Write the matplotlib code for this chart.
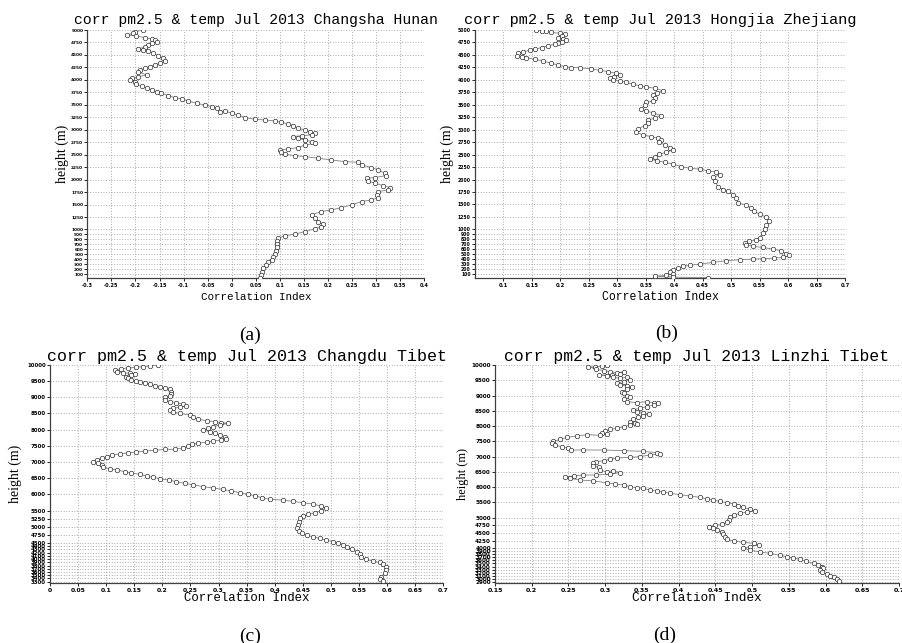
"""
plot.py
-------
Vertical profiles of the PM2.5 / temperature correlation index, July 2013,
for four stations (GrADS-style 2x2 panel figure).
"""

import matplotlib
matplotlib.use("Agg")  # no display
import matplotlib.pyplot as plt
from matplotlib.ticker import FixedLocator, FixedFormatter

# ── Data ──────────────────────────────────────────────────────────────────────

titles = [
    "corr pm2.5 & temp Jul 2013 Changsha Hunan",
    "corr pm2.5 & temp Jul 2013 Hongjia Zhejiang",
    "corr pm2.5 & temp Jul 2013 Changdu Tibet",
    "corr pm2.5 & temp Jul 2013 Linzhi Tibet",
]
panel_labels = ["(a)", "(b)", "(c)", "(d)"]
x_label = "Correlation Index"
y_label = "height (m)"

# (a) Changsha Hunan
corr_a = [-0.184, -0.201, -0.205, -0.218, -0.198, -0.180, -0.166, -0.160, -0.156, -0.166,
          -0.173, -0.180, -0.194, -0.184, -0.173, -0.163, -0.153, -0.142, -0.139, -0.149,
          -0.160, -0.170, -0.180, -0.191, -0.194, -0.177, -0.194, -0.208, -0.211, -0.201,
          -0.198, -0.187, -0.177, -0.166, -0.156, -0.146, -0.132, -0.118, -0.104, -0.090,
          -0.073, -0.056, -0.042, -0.031, -0.025, -0.014, 0.000, 0.013, 0.027, 0.048,
          0.069, 0.090, 0.103, 0.117, 0.128, 0.138, 0.152, 0.162, 0.173, 0.166,
          0.145, 0.128, 0.138, 0.152, 0.166, 0.173, 0.152, 0.138, 0.117, 0.100,
          0.103, 0.110, 0.131, 0.152, 0.180, 0.207, 0.235, 0.263, 0.270, 0.290,
          0.304, 0.318, 0.321, 0.297, 0.280, 0.283, 0.297, 0.315, 0.328, 0.325,
          0.304, 0.301, 0.304, 0.290, 0.270, 0.249, 0.228, 0.207, 0.186, 0.166,
          0.173, 0.180, 0.190, 0.186, 0.173, 0.152, 0.131, 0.110, 0.097, 0.093,
          0.095, 0.093, 0.091, 0.090, 0.086, 0.083, 0.076, 0.072, 0.065, 0.062,
          0.061, 0.058]
height_a = [5000, 4967, 4933, 4900, 4880, 4846, 4820, 4800, 4766, 4733,
            4699, 4666, 4619, 4599, 4579, 4532, 4486, 4432, 4379, 4332,
            4299, 4265, 4232, 4198, 4165, 4098, 4065, 4031, 3998, 3965,
            3911, 3878, 3844, 3798, 3764, 3731, 3684, 3644, 3617, 3577,
            3530, 3497, 3464, 3430, 3363, 3377, 3330, 3297, 3243, 3210,
            3196, 3176, 3150, 3110, 3083, 3029, 2996, 2963, 2929, 2896,
            2882, 2862, 2829, 2796, 2762, 2729, 2695, 2642, 2615, 2595,
            2548, 2508, 2482, 2462, 2428, 2395, 2361, 2348, 2295, 2241,
            2194, 2128, 2081, 2041, 2027, 1974, 1927, 1880, 1840, 1794,
            1760, 1693, 1640, 1593, 1560, 1493, 1440, 1393, 1359, 1293,
            1226, 1159, 1106, 1059, 1012, 959, 906, 872, 825, 772,
            705, 639, 572, 504, 458, 391, 344, 291, 224, 157,
            90, 37]

# (b) Hongjia Zhejiang
corr_b = [0.158, 0.167, 0.175, 0.184, 0.199, 0.208, 0.202, 0.196, 0.205, 0.209,
          0.202, 0.196, 0.190, 0.178, 0.167, 0.155, 0.146, 0.135, 0.126, 0.123,
          0.132, 0.140, 0.155, 0.170, 0.184, 0.196, 0.208, 0.219, 0.234, 0.254,
          0.269, 0.284, 0.298, 0.304, 0.295, 0.287, 0.292, 0.304, 0.316, 0.328,
          0.339, 0.351, 0.366, 0.380, 0.369, 0.363, 0.366, 0.363, 0.351, 0.348,
          0.342, 0.351, 0.363, 0.377, 0.366, 0.354, 0.354, 0.348, 0.336, 0.333,
          0.345, 0.360, 0.371, 0.377, 0.374, 0.383, 0.392, 0.398, 0.386, 0.374,
          0.366, 0.357, 0.369, 0.383, 0.398, 0.412, 0.427, 0.445, 0.459, 0.474,
          0.480, 0.468, 0.471, 0.477, 0.486, 0.494, 0.503, 0.509, 0.512, 0.526,
          0.535, 0.541, 0.550, 0.562, 0.567, 0.562, 0.559, 0.556, 0.550, 0.544,
          0.532, 0.524, 0.526, 0.538, 0.556, 0.573, 0.588, 0.597, 0.601, 0.591,
          0.576, 0.556, 0.538, 0.515, 0.491, 0.468, 0.445, 0.427, 0.415, 0.407,
          0.398, 0.392, 0.398, 0.386, 0.367, 0.398, 0.459]
height_b = [5000, 4987, 4980, 4953, 4933, 4913, 4880, 4846, 4820, 4800,
            4766, 4733, 4713, 4686, 4646, 4619, 4593, 4566, 4532, 4486,
            4459, 4446, 4412, 4379, 4332, 4299, 4265, 4245, 4245, 4218,
            4192, 4165, 4132, 4098, 4065, 4031, 3998, 3978, 3951, 3911,
            3884, 3858, 3831, 3784, 3731, 3697, 3644, 3577, 3550, 3497,
            3417, 3377, 3337, 3283, 3230, 3196, 3130, 3083, 3016, 2949,
            2896, 2862, 2829, 2796, 2749, 2695, 2642, 2595, 2548, 2508,
            2462, 2415, 2375, 2348, 2308, 2261, 2228, 2208, 2174, 2148,
            2094, 2041, 1961, 1860, 1794, 1760, 1693, 1627, 1526, 1493,
            1426, 1359, 1306, 1239, 1159, 1092, 1012, 926, 825, 792,
            758, 725, 691, 658, 638, 604, 571, 504, 478, 438,
            424, 411, 404, 391, 371, 337, 304, 277, 257, 224,
            190, 143, 103, 77, 57, 43, 30]

# (c) Changdu Tibet
corr_c = [0.193, 0.178, 0.166, 0.154, 0.139, 0.127, 0.116, 0.119, 0.130, 0.142,
          0.151, 0.145, 0.136, 0.139, 0.145, 0.154, 0.160, 0.169, 0.178, 0.187,
          0.196, 0.205, 0.213, 0.216, 0.216, 0.213, 0.205, 0.205, 0.213, 0.225,
          0.237, 0.243, 0.231, 0.219, 0.213, 0.219, 0.231, 0.249, 0.255, 0.264,
          0.279, 0.294, 0.305, 0.317, 0.302, 0.291, 0.282, 0.273, 0.285, 0.294,
          0.302, 0.311, 0.314, 0.305, 0.291, 0.279, 0.264, 0.252, 0.246, 0.237,
          0.222, 0.205, 0.187, 0.169, 0.154, 0.139, 0.125, 0.110, 0.101, 0.092,
          0.083, 0.077, 0.086, 0.092, 0.095, 0.107, 0.119, 0.133, 0.145, 0.160,
          0.172, 0.184, 0.196, 0.211, 0.225, 0.240, 0.255, 0.273, 0.291, 0.308,
          0.323, 0.338, 0.353, 0.365, 0.377, 0.391, 0.415, 0.433, 0.451, 0.468,
          0.483, 0.492, 0.483, 0.471, 0.460, 0.451, 0.445, 0.444, 0.442, 0.440,
          0.444, 0.448, 0.457, 0.468, 0.480, 0.492, 0.504, 0.513, 0.522, 0.528,
          0.537, 0.546, 0.551, 0.554, 0.563, 0.575, 0.587, 0.593, 0.599, 0.599,
          0.596, 0.590, 0.587, 0.593]
height_c = [10000, 9969, 9948, 9928, 9907, 9887, 9845, 9794, 9763, 9742,
            9722, 9680, 9639, 9588, 9536, 9515, 9474, 9433, 9402, 9361,
            9309, 9278, 9247, 9175, 9103, 9041, 9000, 8917, 8866, 8835,
            8794, 8732, 8691, 8660, 8608, 8546, 8505, 8454, 8381, 8319,
            8278, 8247, 8216, 8196, 8144, 8093, 8041, 7990, 7938, 7886,
            7835, 7783, 7721, 7680, 7649, 7618, 7577, 7546, 7495, 7433,
            7392, 7392, 7361, 7340, 7309, 7288, 7247, 7216, 7165, 7113,
            7062, 6990, 6959, 6897, 6835, 6794, 6752, 6701, 6660, 6618,
            6567, 6526, 6484, 6443, 6392, 6340, 6299, 6237, 6196, 6154,
            6103, 6051, 6000, 5958, 5897, 5845, 5824, 5783, 5742, 5701,
            5639, 5567, 5495, 5433, 5391, 5330, 5257, 5154, 5051, 4948,
            4876, 4814, 4742, 4690, 4639, 4587, 4536, 4484, 4433, 4360,
            4299, 4226, 4154, 4072, 3989, 3938, 3897, 3845, 3763, 3660,
            3556, 3453, 3371, 3309]

# (d) Linzhi Tibet
corr_d = [0.302, 0.295, 0.286, 0.277, 0.288, 0.298, 0.307, 0.316, 0.325, 0.320,
          0.309, 0.291, 0.302, 0.311, 0.320, 0.329, 0.334, 0.325, 0.316, 0.320,
          0.329, 0.336, 0.329, 0.323, 0.325, 0.329, 0.334, 0.325, 0.329, 0.343,
          0.357, 0.366, 0.372, 0.366, 0.357, 0.347, 0.338, 0.343, 0.352, 0.359,
          0.352, 0.345, 0.338, 0.334, 0.341, 0.343, 0.334, 0.325, 0.316, 0.307,
          0.300, 0.295, 0.302, 0.293, 0.275, 0.261, 0.248, 0.239, 0.229, 0.227,
          0.232, 0.241, 0.250, 0.254, 0.270, 0.298, 0.325, 0.352, 0.370, 0.375,
          0.361, 0.347, 0.334, 0.316, 0.307, 0.298, 0.288, 0.284, 0.284, 0.291,
          0.293, 0.302, 0.311, 0.320, 0.307, 0.288, 0.270, 0.257, 0.245, 0.252,
          0.266, 0.284, 0.302, 0.313, 0.325, 0.334, 0.343, 0.352, 0.361, 0.370,
          0.379, 0.388, 0.402, 0.416, 0.429, 0.438, 0.447, 0.456, 0.466, 0.475,
          0.481, 0.488, 0.497, 0.504, 0.493, 0.484, 0.475, 0.470, 0.468, 0.466,
          0.459, 0.450, 0.441, 0.447, 0.452, 0.459, 0.461, 0.463, 0.466, 0.475,
          0.488, 0.502, 0.509, 0.497, 0.488, 0.497, 0.511, 0.525, 0.538, 0.547,
          0.556, 0.565, 0.574, 0.584, 0.590, 0.595, 0.597, 0.593, 0.595, 0.602,
          0.606, 0.611, 0.615, 0.618]
height_d = [10000, 9967, 9924, 9946, 9858, 9814, 9782, 9749, 9771, 9705,
            9672, 9672, 9640, 9596, 9563, 9596, 9509, 9454, 9421, 9345,
            9312, 9268, 9203, 9126, 9072, 8984, 8941, 8875, 8799, 8766,
            8799, 8766, 8744, 8690, 8635, 8580, 8526, 8471, 8438, 8395,
            8329, 8286, 8220, 8144, 8111, 8067, 8023, 7980, 7925, 7892,
            7849, 7783, 7740, 7696, 7718, 7674, 7630, 7565, 7499, 7434,
            7368, 7325, 7270, 7215, 7215, 7215, 7194, 7172, 7128, 7084,
            7052, 6997, 6975, 6953, 6910, 6866, 6833, 6779, 6691, 6648,
            6560, 6495, 6538, 6473, 6429, 6396, 6396, 6364, 6342, 6287,
            6233, 6200, 6145, 6102, 6069, 6014, 5982, 5960, 5905, 5872,
            5839, 5796, 5752, 5708, 5665, 5621, 5577, 5534, 5490, 5446,
            5381, 5337, 5272, 5228, 5184, 5141, 5086, 5010, 4922, 4846,
            4780, 4748, 4704, 4649, 4595, 4540, 4464, 4376, 4289, 4234,
            4191, 4158, 4103, 4049, 3994, 3939, 3874, 3830, 3765, 3721,
            3677, 3634, 3568, 3503, 3448, 3393, 3339, 3284, 3219, 3153,
            3088, 3044, 2978, 2935]

# Axis ticks (GrADS picks irregular height levels near the ground)
xticks_a = [-0.3, -0.25, -0.2, -0.15, -0.1, -0.05, 0, 0.05, 0.1, 0.15, 0.2, 0.25, 0.3, 0.35, 0.4]
xticks_b = [0.1, 0.15, 0.2, 0.25, 0.3, 0.35, 0.4, 0.45, 0.5, 0.55, 0.6, 0.65, 0.7]
xticks_c = [0, 0.05, 0.1, 0.15, 0.2, 0.25, 0.3, 0.35, 0.4, 0.45, 0.5, 0.55, 0.6, 0.65, 0.7]
xticks_d = [0.15, 0.2, 0.25, 0.3, 0.35, 0.4, 0.45, 0.5, 0.55, 0.6, 0.65, 0.7]

yticks_ab = [100, 200, 300, 400, 500, 600, 700, 800, 900, 1000,
             1250, 1500, 1750, 2000, 2250, 2500, 2750, 3000, 3250, 3500,
             3750, 4000, 4250, 4500, 4750, 5000]
yticks_c = [3300, 3400, 3500, 3600, 3700, 3800, 3900, 4000, 4100, 4200, 4300, 4400,
            4500, 4750, 5000, 5250, 5500, 6000, 6500, 7000, 7500, 8000, 8500,
            9000, 9500, 10000]
yticks_d = [2900, 3000, 3100, 3200, 3300, 3400, 3500, 3600, 3700, 3800, 3900, 4000,
            4250, 4500, 4750, 5000, 5500, 6000, 6500, 7000, 7500, 8000, 8500,
            9000, 9500, 10000]

xlims = [(-0.3, 0.4), (0.05, 0.7), (0.0, 0.7), (0.15, 0.7)]
ylims = [(33, 5000), (30, 5000), (3270, 10000), (2870, 10000)]


# ── Figure ────────────────────────────────────────────────────────────────────

MONO = "Liberation Mono"
SERIF = "Liberation Serif"

fig = plt.figure(figsize=(9.02, 6.43), dpi=100)

panels = [
    dict(x=corr_a, y=height_a, xt=xticks_a, yt=yticks_ab,
         rect=(0.0968, 0.5681, 0.3736, 0.3852), title_y=0.9689, title_fs=10.6,
         xlab_y=0.5386, xlab_fs=7.8, ylab_x=0.0687, ylab_fs=10,
         tick_fs=3.6, lab_xy=(0.277, 0.479)),
    dict(x=corr_b, y=height_b, xt=xticks_b, yt=yticks_ab,
         rect=(0.5266, 0.5681, 0.4102, 0.3852), title_y=0.9689, title_fs=11.0,
         xlab_y=0.5386, xlab_fs=8.3, ylab_x=0.4956, ylab_fs=10,
         tick_fs=3.8, lab_xy=(0.7395, 0.482)),
    dict(x=corr_c, y=height_c, xt=xticks_c, yt=yticks_c,
         rect=(0.0554, 0.0938, 0.4360, 0.3386), title_y=0.4448, title_fs=12.0,
         xlab_y=0.070, xlab_fs=8.9, ylab_x=0.0166, ylab_fs=10,
         tick_fs=4.4, lab_xy=(0.277, 0.011)),
    dict(x=corr_d, y=height_d, xt=xticks_d, yt=yticks_d,
         rect=(0.5488, 0.0938, 0.4479, 0.3386), title_y=0.4448, title_fs=11.8,
         xlab_y=0.070, xlab_fs=9.2, ylab_x=0.513, ylab_fs=9,
         tick_fs=4.6, lab_xy=(0.737, 0.012)),
]

for i, p in enumerate(panels):
    ax = fig.add_axes(p["rect"])
    ax.plot(p["x"], p["y"], color="#808080", lw=0.6, marker="o", ms=3.2,
            mfc="white", mec="#303030", mew=0.5, zorder=3)

    ax.set_xlim(*xlims[i])
    ax.set_ylim(*ylims[i])

    ax.xaxis.set_major_locator(FixedLocator(p["xt"]))
    ax.xaxis.set_major_formatter(FixedFormatter([f"{v:g}" for v in p["xt"]]))
    ax.yaxis.set_major_locator(FixedLocator(p["yt"]))
    ax.yaxis.set_major_formatter(FixedFormatter([str(v) for v in p["yt"]]))

    ax.tick_params(axis="x", labelsize=p["tick_fs"], length=2, width=0.6, pad=1.5)
    ax.tick_params(axis="y", labelsize=p["tick_fs"] - 0.5, length=2, width=0.6, pad=1)
    for lab in ax.get_xticklabels() + ax.get_yticklabels():
        lab.set_fontweight("bold")

    ax.grid(True, color="#909090", lw=0.6, linestyle=(0, (1, 2.2)))
    for side in ("top", "right"):
        ax.spines[side].set_visible(False)
    for side in ("left", "bottom"):
        ax.spines[side].set_linewidth(0.9)
        ax.spines[side].set_color("#404040")

    cx = p["rect"][0] + p["rect"][2] / 2
    cy = p["rect"][1] + p["rect"][3] / 2
    fig.text(cx, p["title_y"], titles[i], ha="center", va="center",
             family=MONO, fontsize=p["title_fs"])
    fig.text(cx, p["xlab_y"], x_label, ha="center", va="center",
             family=MONO, fontsize=p["xlab_fs"])
    fig.text(p["ylab_x"], cy, y_label, ha="center", va="center", rotation=90,
             family=SERIF, fontsize=p["ylab_fs"])
    fig.text(p["lab_xy"][0], p["lab_xy"][1], panel_labels[i], ha="center",
             va="center", family=SERIF, fontsize=14)

fig.savefig("out.png", dpi=100)
